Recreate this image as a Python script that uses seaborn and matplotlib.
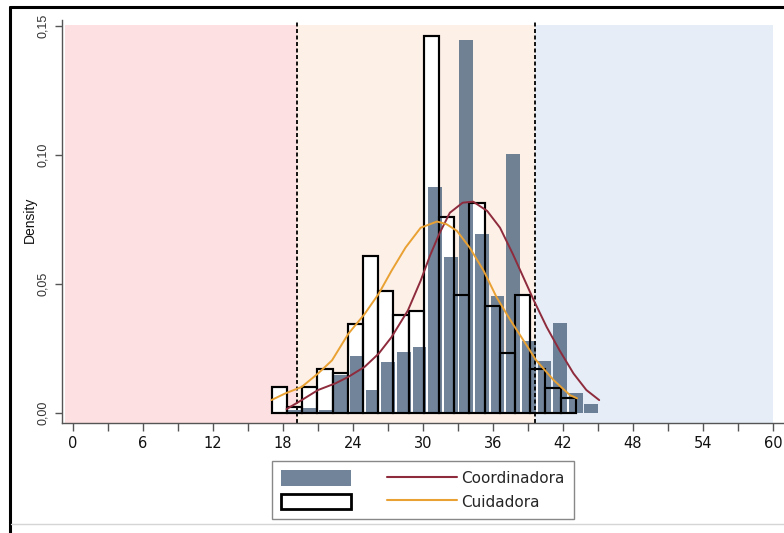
import numpy as np
import pandas as pd
import matplotlib
matplotlib.use("Agg")
import matplotlib.pyplot as plt
import seaborn as sns
from matplotlib.patches import Patch
from matplotlib.lines import Line2D

# ---------------- data ----------------
series_names = ["Coordinadora", "Cuidadora"]

coord_bin_start = 18.3
coord_bin_width = 1.34
coord_density = [0.0010, 0.0020, 0.0010, 0.0147, 0.0220, 0.0091, 0.0198, 0.0236,
                 0.0256, 0.0875, 0.0605, 0.1445, 0.0693, 0.0455, 0.1004, 0.0280,
                 0.0200, 0.0347, 0.0077, 0.0035]

cuid_bin_start = 17.03
cuid_bin_width = 1.3035
cuid_density = [0.0099, 0.0024, 0.0099, 0.0172, 0.0156, 0.0343, 0.0609, 0.0474,
                0.0381, 0.0397, 0.1460, 0.0761, 0.0459, 0.0815, 0.0416, 0.0234,
                0.0459, 0.0172, 0.0095, 0.0059]

coord_curve_x = [18.3, 19.6, 21.0, 22.5, 23.6, 25.0, 26.2, 27.3, 28.7, 29.8, 30.6,
                 31.4, 32.3, 33.4, 34.3, 35.5, 36.6, 37.7, 38.6, 39.5, 40.6, 41.7,
                 42.9, 44.0, 45.1]
coord_curve_y = [0.0015, 0.0050, 0.0089, 0.0115, 0.0140, 0.0179, 0.0230, 0.0294,
                 0.0397, 0.0513, 0.0610, 0.0695, 0.0776, 0.0815, 0.0819, 0.0783,
                 0.0718, 0.0616, 0.0526, 0.0436, 0.0333, 0.0243, 0.0153, 0.0089,
                 0.0050]

cuid_curve_x = [17.0, 18.2, 19.6, 21.0, 22.2, 23.6, 25.0, 26.2, 27.3, 28.5, 29.8,
                31.2, 32.0, 32.9, 34.0, 35.2, 36.3, 37.5, 38.6, 39.7, 41.2, 42.6,
                43.2]
cuid_curve_y = [0.0050, 0.0076, 0.0101, 0.0153, 0.0204, 0.0307, 0.0384, 0.0462,
                0.0551, 0.0641, 0.0718, 0.0742, 0.0732, 0.0706, 0.0641, 0.0551,
                0.0449, 0.0359, 0.0282, 0.0204, 0.0127, 0.0069, 0.0057]

cutoffs = [19.2, 39.6]
zone_bounds = [-0.7, 19.2, 39.6, 60.0]
zone_top = 0.1503
x_ticks = list(range(0, 61, 6))
x_minor_ticks = list(range(3, 60, 6))
y_ticks = [0.00, 0.05, 0.10, 0.15]
y_tick_labels = ["0,00", "0,05", "0,10", "0,15"]
y_label = "Density"

# ---------------- styles ----------------
zone_colors = ["#fde0e1", "#fdf0e7", "#e6edf6"]
gray_col = "#4d6580"
red_col = "#8e2b3c"
orange_col = "#e9a133"

sns.set_style("white")
plt.rcParams["font.family"] = ["DejaVu Sans"]

coord_edges = [float(v) for v in coord_bin_start + coord_bin_width * np.arange(len(coord_density) + 1)]
cuid_edges = [float(v) for v in cuid_bin_start + cuid_bin_width * np.arange(len(cuid_density) + 1)]
coord_df = pd.DataFrame({"x": [(a + b) / 2 for a, b in zip(coord_edges[:-1], coord_edges[1:])],
                         "w": coord_density})
cuid_df = pd.DataFrame({"x": [(a + b) / 2 for a, b in zip(cuid_edges[:-1], cuid_edges[1:])],
                        "w": cuid_density})

fig = plt.figure(figsize=(7.84, 5.33), dpi=100)
ax = fig.add_axes([62 / 784, 110 / 533, 722 / 784, 403 / 533])
ylo, yhi = -0.00388, 0.1523

frac_top = (zone_top - ylo) / (yhi - ylo)
for i, c in enumerate(zone_colors):
    ax.axvspan(zone_bounds[i], zone_bounds[i + 1], ymin=0, ymax=frac_top,
               color=c, lw=0, zorder=0)

# Cuidadora bars: white fill
sns.histplot(data=cuid_df, x="x", weights="w", bins=cuid_edges, stat="count",
             element="bars", color="white", alpha=1, edgecolor="black",
             linewidth=1.5, ax=ax, zorder=1)
# Coordinadora bars
sns.histplot(data=coord_df, x="x", weights="w", bins=coord_edges, stat="count",
             element="bars", color=gray_col, alpha=0.8, linewidth=0,
             shrink=0.88, ax=ax, zorder=1.2)
# Cuidadora outlines on top
sns.histplot(data=cuid_df, x="x", weights="w", bins=cuid_edges, stat="count",
             element="bars", fill=False, color="black", edgecolor="black",
             linewidth=1.5, ax=ax, zorder=1.4)

frac_dash = (0.152 - ylo) / (yhi - ylo)
for c in cutoffs:
    ax.axvline(c, ymin=0, ymax=frac_dash, color="black", lw=1.3,
               ls=(0, (2.2, 1.4)), zorder=2)

sns.lineplot(x=coord_curve_x, y=coord_curve_y, color=red_col, lw=1.4, ax=ax, zorder=4)
sns.lineplot(x=cuid_curve_x, y=cuid_curve_y, color=orange_col, lw=1.4, ax=ax, zorder=4)

ax.set_xlim(-0.943, 60.94)
ax.set_ylim(ylo, yhi)

ax.set_xticks(x_ticks)
ax.set_xticks(x_minor_ticks, minor=True)
ax.set_xticklabels([str(t) for t in x_ticks])
ax.tick_params(axis="x", which="both", length=6, width=1, color="#555555",
               direction="out", bottom=True, labelsize=10.5, pad=3, labelcolor="#111111")
ax.set_yticks(y_ticks)
ax.set_yticklabels(y_tick_labels, rotation=90, va="center",
                   family=["Liberation Sans Narrow", "Liberation Sans"], fontsize=9)
ax.tick_params(axis="y", length=5, width=1, color="#555555", direction="out",
               left=True, pad=4, labelcolor="#333333")
ax.set_xlabel("")
ax.set_ylabel(y_label, family=["Liberation Sans Narrow", "Liberation Sans"],
              fontsize=10, color="#111111")
ax.yaxis.set_label_coords(-0.0346, (0.075 - ylo) / (yhi - ylo))

for s in ["top", "right"]:
    ax.spines[s].set_visible(False)
for s in ["left", "bottom"]:
    ax.spines[s].set_color("#555555")
    ax.spines[s].set_linewidth(1)

handles = [Patch(facecolor=gray_col, alpha=0.8, edgecolor="none"),
           Patch(facecolor="white", edgecolor="black", linewidth=2),
           Line2D([], [], color=red_col, lw=1.5),
           Line2D([], [], color=orange_col, lw=1.5)]
labels = ["", "", series_names[0], series_names[1]]
leg = fig.legend(handles, labels, ncol=2, loc="center",
                 bbox_to_anchor=(423 / 784, 1 - 490 / 533),
                 prop={"family": "DejaVu Sans", "size": 11},
                 handlelength=4.6, handleheight=1.2, handletextpad=0.3,
                 columnspacing=2.0, borderpad=0.6, labelspacing=0.5,
                 frameon=True, fancybox=False, framealpha=1)
leg.get_frame().set_edgecolor("#888888")
leg.get_frame().set_linewidth(1)

# outer frame of the screenshot
fig.add_artist(Line2D([9.5 / 784, 9.5 / 784], [0, 1 - 6.5 / 533],
                      transform=fig.transFigure, color="black", lw=2.2))
fig.add_artist(Line2D([9.5 / 784, 1], [1 - 6.5 / 533, 1 - 6.5 / 533],
                      transform=fig.transFigure, color="black", lw=2.2))
fig.add_artist(Line2D([11 / 784, 1], [9 / 533, 9 / 533],
                      transform=fig.transFigure, color="#d5d5d5", lw=1))

fig.savefig("out.png", dpi=100)
